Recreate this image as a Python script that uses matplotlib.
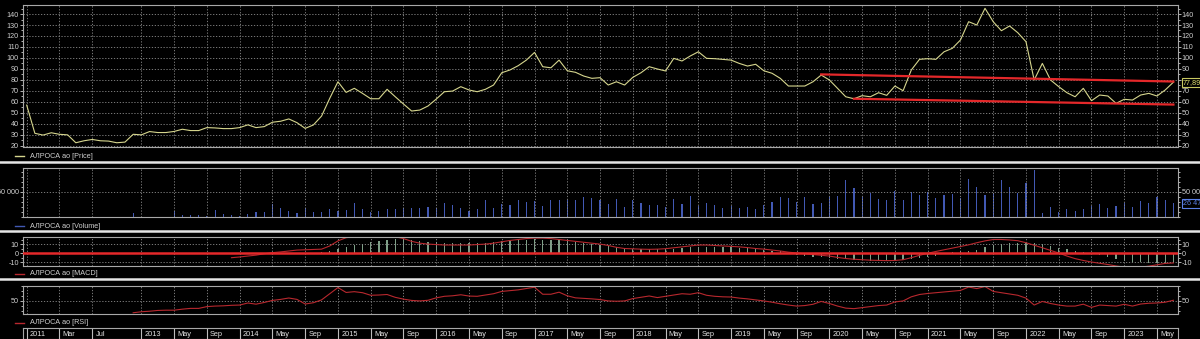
import numpy as np
import pandas as pd
import matplotlib
matplotlib.use("Agg")
import matplotlib.pyplot as plt
from matplotlib.lines import Line2D
from matplotlib.ticker import MultipleLocator

plt.rcParams["font.family"] = ["Liberation Sans", "DejaVu Sans"]

# monthly bars, Nov 2011 .. Jul 2023
months = pd.date_range("2011-11-01", periods=141, freq="MS")

price = [57, 31.3, 29.7, 31.8, 30.4, 29.9, 22.7, 24.5, 25.7, 24.5,
         24.2, 22.7, 23.3, 30.4, 29.9, 32.9, 32, 32, 33, 35,
         33.8, 33.8, 36.5, 36.2, 35.6, 35.6, 36.5, 39, 36.5, 37.4,
         41.4, 42.3, 44.4, 41, 35.8, 38.9, 47, 63.2, 78.3, 68.6,
         72.3, 67.7, 62.8, 62.8, 71.4, 64.6, 58, 51.6, 52.5, 56.2,
         62.5, 69.2, 69.8, 73.8, 70.8, 69.2, 71.4, 75.3, 86.5, 89,
         92.9, 98, 105, 92, 91, 98, 88.3, 86.9, 83.5, 81.4,
         82, 75.3, 78.3, 75.3, 82.3, 86.5, 92, 89.9, 88.1, 99.6,
         97.2, 101.7, 105.6, 99.6, 99.3, 98.7, 98, 95, 92.6, 94.2,
         88.3, 86, 81.4, 74.4, 74.4, 74.4, 78.3, 84.4, 79.9, 72.3,
         64.6, 62.8, 65.6, 64.6, 68.3, 65.9, 74.4, 70.1, 89, 98.7,
         99.3, 98.7, 105.6, 108.7, 116.3, 133, 130, 145.2, 133, 124.8,
         129.1, 123, 114.8, 79.9, 95, 79.9, 73.8, 68.3, 64.6, 72.3,
         61, 66.2, 65.3, 58.6, 62.3, 61.6, 66.2, 67.7, 65.3, 70.8,
         77.89]

volume = [0] * 13 + [
    6800, 0, 0, 0, 0, 11400, 3400, 3400, 3400, 2000,
    13400, 5400, 3400, 2000, 5400, 8800, 8800, 25400, 18000, 11400,
    6800, 18000, 9400, 9400, 16400, 12000, 13400, 28000, 14800, 9400,
    11400, 16400, 14800,
    16800, 16800, 16800, 20000, 16800, 26800, 23400, 16800, 11400, 14800,
    33400, 17400, 25400, 23400, 33400, 28800, 32000, 22000, 33400, 33400,
    33400, 33400, 38800, 36800, 33400, 25400, 34800, 18800, 33400, 26800,
    23400, 23400, 18800, 34800, 25400, 41400, 22000, 28000, 23400, 16800,
    22000, 16800, 20000, 14800, 23400, 30000, 40000, 36800, 30000,
    38800, 25400, 28000, 40000, 41400, 73400, 56800, 40000, 48000, 34800,
    33400, 52000, 33400, 50000, 43400, 50000, 36800, 43400, 45400, 36800,
    74800, 58800, 43400, 46800, 73400, 58800, 46800, 68000, 93400, 8000,
    20000, 10000, 14800, 12000, 14800, 21400, 25400, 16800, 21400, 26800,
    20000, 31400, 28000, 40000, 33400, 26471]

macd = [None] * 25 + [
    -4.8, -4, -3, -2, -0.5, 0.7, 1.5, 2.5, 3.5, 3.8,
    4, 4.5, 8, 13.5, 17, 18, 18.5, 19, 19, 18.5,
    18, 16, 13, 11, 10, 9.5, 9, 9, 9, 9,
    9.5, 10, 11, 12.5, 14, 15, 16, 16.5, 16.5, 16,
    15, 14, 13, 12, 11, 10, 8.5, 6.5, 5.2, 4.8,
    4.5, 4.3, 4.5, 5, 6, 7, 8, 9, 9, 8.5,
    8, 7.5, 7, 6.2, 5.2, 4.5, 3.5, 2.5, 1.2, 0.3,
    -0.5, -1.3, -2, -3, -4.5, -5.7, -6.5, -7, -7.5, -7.8,
    -8, -7.8, -7, -4.8, -2.2, 0, 2, 3.8, 5.5, 7.5,
    9.2, 11.5, 13.5, 15, 15, 14.5, 13.7, 11.5, 8.8, 6,
    3.2, 0.3, -3, -5.8, -7.8, -9.5, -10.8, -12.2, -13.8, -15,
    -15.5, -15, -14, -12.5, -11, -10.5]

macd_hist = [0] * 36 + [
    1, 2.5, 5, 7, 8.5, 10, 12, 13, 14.5, 15.2,
    15.2, 15, 13.5, 12.6, 12, 11.6, 11, 11, 11, 11,
    11.3, 12, 13, 13.5, 14.5, 15, 15.2, 15, 14.5, 14.5,
    13.5, 12.6, 11, 10.1, 9, 8, 6.5, 5.4, 4.7, 4.3,
    4.3, 4.3, 4.7, 4.7, 5.5, 6.5, 7.2, 7.2, 7.2, 6.5,
    6.5, 5.8, 5.8, 4.7, 3.6, 2.9, 2.2, 0.5, -1.4, -2.5,
    -3.6, -4.3, -5, -6.2, -6.5, -7.2, -7.2, -8, -8, -8,
    -8, -7.5, -6.5, -5.4, -4.3, -2.9, 0.5, 1.5, 2, 3,
    3.6, 6.5, 9, 10.1, 10.9, 11, 11.6, 11, 10.1, 8,
    5.4, 4.3, 2.9, 1.5, 0, -1.8, -4.3, -6.5, -8, -9,
    -9.8, -10.5, -10.9, -10.9, -10.9]

rsi = [None] * 13 + [
    27, 29, 30, 31.5, 32, 32, 34, 35.5, 35.5, 39,
    40, 40.5, 41.5, 42, 46, 43.7, 47, 51, 53, 55.7,
    53, 44, 46.5, 52, 64, 76, 66.5, 68, 66, 61,
    61.5, 62.5, 57, 53.5, 51, 50, 51.3, 56, 59, 60,
    62, 59.5, 59, 61.5, 64, 68.5, 70, 71.5, 74, 76.7,
    63, 63, 67, 60, 56, 55, 54, 52.7, 50, 49.4,
    50, 54.6, 57, 59.6, 56.5, 59, 61.5, 64, 63, 66,
    61, 59, 58, 57.6, 55.5, 54, 52, 50, 47.5, 44.5,
    42, 40, 41, 43.5, 49, 45, 40, 36, 35, 37,
    39, 41, 42, 48, 50, 58, 62.5, 64.5, 66, 67.5,
    69, 70.4, 77, 74, 78, 68.5, 66, 63.5, 61, 55.5,
    42, 49, 45, 42, 40, 40, 43.7, 37.5, 42, 41,
    40, 43.5, 40, 44, 45.5, 46, 47.5, 51.3]

# trend lines drawn on the price panel
upper_months = ["2019-12", "2023-07"]
upper_values = [85.0, 78.5]
lower_months = ["2020-04", "2023-07"]
lower_values = [62.8, 57.5]

tick_dates = ["2011-11", "2012-03", "2012-07"] + [
    f"{y}-{m:02d}" for y in range(2013, 2024) for m in (1, 5, 9)][:-1]
tick_names = ["2011", "Mar", "Jul"] + [
    n for y in range(2013, 2024) for n in (str(y), "May", "Sep")][:-1]

assert len(price) == len(volume) == len(macd) == len(macd_hist) == len(rsi) == len(months)

x = np.arange(len(months))
price = np.array(price, dtype=float)
volume = np.array(volume, dtype=float)
macd = np.array(macd, dtype=float)
macd_hist = np.array(macd_hist, dtype=float)
rsi = np.array(rsi, dtype=float)
tick_pos = [months.get_loc(pd.Timestamp(d)) for d in tick_dates]


def mpos(d):
    return months.get_loc(pd.Timestamp(d))


W, H = 1200, 339
FG = "#cfcfcf"
GRID = "#8c8c8c"
SPINE = "#a8a8a8"
PRICE_C = "#d6d68e"
VOL_C = "#4259b4"
RED = "#e4282a"
DARKRED = "#b8282e"


def rect(l, t, r, b):
    return [l / W, 1 - b / H, (r - l) / W, (b - t) / H]


def fx(px):
    return px / W


def fy(py):
    return 1 - py / H


def style(ax, ylim, ticks, labels, minor):
    ax.set_facecolor("black")
    ax.set_xlim(-0.45, 140.5)
    ax.set_ylim(*ylim)
    ax.set_xticks(tick_pos)
    ax.tick_params(axis="x", length=0, labelbottom=False)
    ax.set_yticks(ticks)
    ax.set_yticklabels(labels)
    ax.yaxis.set_minor_locator(MultipleLocator(minor))
    ax.tick_params(axis="y", which="both", left=True, right=True,
                   labelleft=True, labelright=True, colors=FG,
                   labelsize=5.2, length=2, pad=1, width=0.6)
    ax.tick_params(axis="y", which="minor", length=1.2)
    ax.grid(True, color=GRID, lw=0.6, ls=(0, (1.5, 2)))
    for s in ax.spines.values():
        s.set_color(SPINE)
        s.set_linewidth(0.8)


fig = plt.figure(figsize=(W / 100, H / 100), dpi=100, facecolor="black")

# price
ax_p = fig.add_axes(rect(23, 4.7, 1177.5, 146.7))
ax_p.plot(x, price, color=PRICE_C, lw=0.8)
ax_p.plot([mpos(d) for d in upper_months], upper_values, color=RED, lw=1.6)
ax_p.plot([mpos(d) for d in lower_months], lower_values, color=RED, lw=1.6)
style(ax_p, (19.1, 148.5), range(20, 141, 10), [str(v) for v in range(20, 141, 10)], 5)
# the right-hand "80" sits under the last-price badge
for t in ax_p.yaxis.get_major_ticks():
    if abs(t.get_loc() - 80) < 0.1:
        t.label2.set_visible(False)

# volume
ax_v = fig.add_axes(rect(23, 167.7, 1177.5, 217))
ax_v.bar(x, volume, width=0.14, color=VOL_C)
style(ax_v, (-600, 98000), [50000], ["50 000"], 10000)

# MACD
ax_m = fig.add_axes(rect(23, 237.3, 1177.5, 265.7))
ax_m.bar(x, macd_hist, width=0.15, color="#7fa088")
ax_m.plot(x, macd, color=DARKRED, lw=0.8)
style(ax_m, (-13.5, 17.4), [-10, 0, 10], ["-10", "0", "10"], 5)
ax_m.axhline(0, color=RED, lw=1.8, zorder=3)

# RSI
ax_r = fig.add_axes(rect(23, 285.5, 1177.5, 314))
ax_r.plot(x, rsi, color=DARKRED, lw=0.8)
style(ax_r, (24.6, 80.0), [50], ["50"], 10)

# date strip
ax_d = fig.add_axes(rect(23, 328.3, 1177.5, 339))
ax_d.set_facecolor("black")
ax_d.set_xlim(-0.45, 140.5)
ax_d.set_ylim(0, 1)
ax_d.set_xticks([])
ax_d.set_yticks([])
for s in ax_d.spines.values():
    s.set_color(SPINE)
    s.set_linewidth(0.8)
ax_d.vlines(tick_pos, 0, 1, color="#bdbdbd", lw=0.8)
for p, n in zip(tick_pos, tick_names):
    ax_d.text(p + 0.4, 0.45, n, color="#e2e2e2", fontsize=5.3, va="center", ha="left")

# separators between panels
for yy in (161.7, 231, 279.3):
    fig.add_artist(Line2D([0, 1], [fy(yy)] * 2, color="#e6e6e6", lw=1.8))

# legends
legends = [(156, PRICE_C, "АЛРОСА ао [Price]"),
           (226.3, VOL_C, "АЛРОСА ао [Volume]"),
           (273.5, DARKRED, "АЛРОСА ао [MACD]"),
           (322.5, DARKRED, "АЛРОСА ао [RSI]")]
for yy, c, t in legends:
    fig.add_artist(Line2D([fx(15), fx(24)], [fy(yy)] * 2, color=c, lw=1.0))
    fig.text(fx(30), fy(yy), t, color=FG, fontsize=5.2, va="center", ha="left")

# last value badges
fig.text(fx(1183), fy(82.8), "77,89", color="#e0e070", fontsize=5.2, va="center",
         bbox=dict(facecolor="black", edgecolor="#c8c860", lw=0.8, pad=0.8))
fig.text(fx(1183), fy(203.5), "26 471", color="#5b80e6", fontsize=5.2, va="center",
         bbox=dict(facecolor="black", edgecolor="#5b80e6", lw=0.8, pad=0.8))

fig.savefig("out.png", dpi=100, facecolor="black")
